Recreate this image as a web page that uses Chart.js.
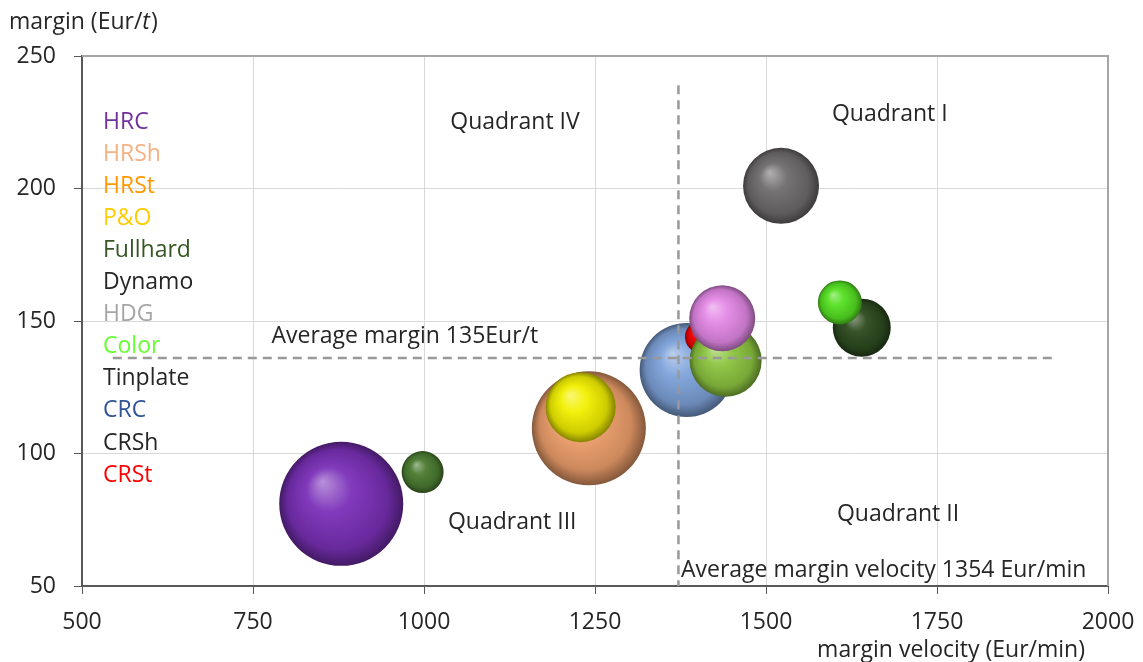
<!DOCTYPE html>
<html>
<head>
<meta charset="utf-8">
<script src="https://cdn.jsdelivr.net/npm/chart.js@4.4.1/dist/chart.umd.min.js"></script>
<style>
  body { margin: 0; background: #fff; }
  #wrap { width: 1143px; height: 662px; position: relative; }
</style>
</head>
<body>
<div id="wrap"><canvas id="mycanvas"></canvas></div>
<script>
// products, in legend order
var products = ['HRC', 'HRSh', 'HRSt', 'P&O', 'Fullhard', 'Dynamo', 'HDG', 'Color', 'Tinplate', 'CRC', 'CRSh', 'CRSt'];
// margin velocity (Eur/min), margin (Eur/t), bubble size
var velocity = [879, 1241, null, 1229, 998, 1640, 1522, 1608, 1441, 1384, 1436, 1405];
var margin = [81, 109.5, null, 117.5, 93, 147.5, 201, 157, 135, 131.5, 151, 144];
var bubbleSize = [62, 57, null, 35, 21, 29, 38, 22, 36, 47, 33, 16];

var xTicks = [500, 750, 1000, 1250, 1500, 1750, 2000];
var yTicks = [50, 100, 150, 200, 250];

var avgMargin = 136;
var avgVelocity = 1372;

var legendColors = ['#7030a0', '#f4b183', '#ff9900', '#ffcc00', '#375623', '#262626', '#a6a6a6', '#66ff33', '#262626', '#2f5597', '#262626', '#ff0000'];
var bubbleColors = ['#7a30b8', '#f0a06c', '#ff9900', '#f2f000', '#4a7a30', '#2c4a1e', '#6e6c6c', '#55e022', '#8cc440', '#7ea2da', '#e488e6', '#ee0000'];
// lower = drawn on top
var zOrder = [5, 6, 6, 2, 5, 6, 5, 2, 2, 8, 1, 4];

var FONT = '"Open Sans", sans-serif';
var FS = 23;
var TEXT = '#262626';

function shade(hex, amt) {
    var n = parseInt(hex.slice(1), 16);
    var r = (n >> 16) & 255, g = (n >> 8) & 255, b = n & 255;
    function f(c) {
        var v = amt >= 0 ? c + (255 - c) * amt : c * (1 + amt);
        return Math.round(Math.max(0, Math.min(255, v)));
    }
    return 'rgb(' + f(r) + ',' + f(g) + ',' + f(b) + ')';
}

function sphere(base) {
    return function (c) {
        var chart = c.chart;
        if (!chart.chartArea || !c.raw) return base;
        var cx = chart.scales.x.getPixelForValue(c.raw.x);
        var cy = chart.scales.y.getPixelForValue(c.raw.y);
        var r = c.raw.r;
        var g = chart.ctx.createRadialGradient(cx - r * 0.3, cy - r * 0.35, r * 0.02, cx, cy, r);
        g.addColorStop(0, shade(base, 0.45));
        g.addColorStop(0.35, shade(base, 0.05));
        g.addColorStop(0.8, shade(base, -0.15));
        g.addColorStop(1, shade(base, -0.45));
        return g;
    };
}

var datasets = [];
for (var i = 0; i < products.length; i++) {
    datasets.push({
        label: products[i],
        data: velocity[i] == null ? [] : [{ x: velocity[i], y: margin[i], r: bubbleSize[i] }],
        backgroundColor: sphere(bubbleColors[i]),
        borderWidth: 0,
        order: zOrder[i]
    });
}

var extras = {
    id: 'extras',
    afterDatasetsDraw: function (chart) {
        var ctx = chart.ctx, a = chart.chartArea, x = chart.scales.x, y = chart.scales.y;
        ctx.save();
        // top and right frame
        ctx.strokeStyle = '#a6a6a6';
        ctx.lineWidth = 2;
        ctx.beginPath();
        ctx.moveTo(a.left, a.top);
        ctx.lineTo(a.right, a.top);
        ctx.lineTo(a.right, a.bottom);
        ctx.stroke();

        // average lines
        ctx.strokeStyle = '#999999';
        ctx.lineWidth = 2.5;
        ctx.setLineDash([9, 6]);
        ctx.beginPath();
        ctx.moveTo(x.getPixelForValue(545), y.getPixelForValue(avgMargin));
        ctx.lineTo(x.getPixelForValue(1925), y.getPixelForValue(avgMargin));
        ctx.moveTo(x.getPixelForValue(avgVelocity), y.getPixelForValue(239));
        ctx.lineTo(x.getPixelForValue(avgVelocity), y.getPixelForValue(50));
        ctx.stroke();
        ctx.setLineDash([]);

        // annotation texts
        ctx.font = FS + 'px ' + FONT;
        ctx.fillStyle = TEXT;
        ctx.textAlign = 'center';
        ctx.textBaseline = 'middle';
        var notes = [
            ['Quadrant IV', 1133, 225],
            ['Quadrant I', 1681, 228],
            ['Quadrant III', 1129, 74],
            ['Quadrant II', 1693, 77],
            ['Average margin 135Eur/t', 972, 144],
            ['Average margin velocity 1354 Eur/min', 1672, 56]
        ];
        notes.forEach(function (n) {
            ctx.fillText(n[0], x.getPixelForValue(n[1]), y.getPixelForValue(n[2]));
        });

        // coloured product list
        ctx.textAlign = 'left';
        for (var i = 0; i < products.length; i++) {
            ctx.fillStyle = legendColors[i];
            ctx.fillText(products[i], 103, 122 + i * 32.1);
        }

        // axis titles
        ctx.fillStyle = TEXT;
        ctx.textAlign = 'left';
        var t1 = 'margin (Eur/';
        ctx.fillText(t1, 9, 22);
        var w1 = ctx.measureText(t1).width;
        ctx.font = 'italic ' + FS + 'px ' + FONT;
        ctx.fillText('t', 9 + w1, 22);
        var w2 = ctx.measureText('t').width;
        ctx.font = FS + 'px ' + FONT;
        ctx.fillText(')', 9 + w1 + w2 + 1, 22);

        ctx.textAlign = 'right';
        ctx.fillText('margin velocity (Eur/min)', 1085, 650);
        ctx.restore();
    }
};

var ctx = document.getElementById('mycanvas');
var chart = new Chart(ctx, {
    type: 'bubble',
    data: { datasets: datasets },
    plugins: [extras],
    options: {
        responsive: true,
        maintainAspectRatio: false,
        animation: false,
        events: [],
        layout: { autoPadding: false, padding: { left: 0, top: 56, right: 35, bottom: 0 } },
        plugins: { legend: { display: false }, tooltip: { enabled: false } },
        scales: {
            x: {
                type: 'linear',
                min: xTicks[0],
                max: xTicks[xTicks.length - 1],
                afterBuildTicks: function (s) { s.ticks = xTicks.map(function (v) { return { value: v }; }); },
                afterFit: function (s) { s.height = 76; s.paddingLeft = 0; s.paddingRight = 0; },
                grid: { color: '#d9d9d9', lineWidth: 1, tickColor: '#595959', tickLength: 8 },
                border: { color: '#595959', width: 2 },
                ticks: { color: TEXT, font: { family: FONT, size: FS }, padding: 15, maxRotation: 0,
                    callback: function (v) { return String(v); } }
            },
            y: {
                type: 'linear',
                min: yTicks[0],
                max: yTicks[yTicks.length - 1],
                afterBuildTicks: function (s) { s.ticks = yTicks.map(function (v) { return { value: v }; }); },
                afterFit: function (s) { s.width = 82; s.paddingTop = 0; s.paddingBottom = 0; },
                grid: { color: '#d9d9d9', lineWidth: 1, tickColor: '#595959', tickLength: 8 },
                border: { color: '#595959', width: 2 },
                ticks: { color: TEXT, font: { family: FONT, size: FS }, padding: 18,
                    callback: function (v) { return String(v); } }
            }
        }
    }
});
</script>
</body>
</html>
